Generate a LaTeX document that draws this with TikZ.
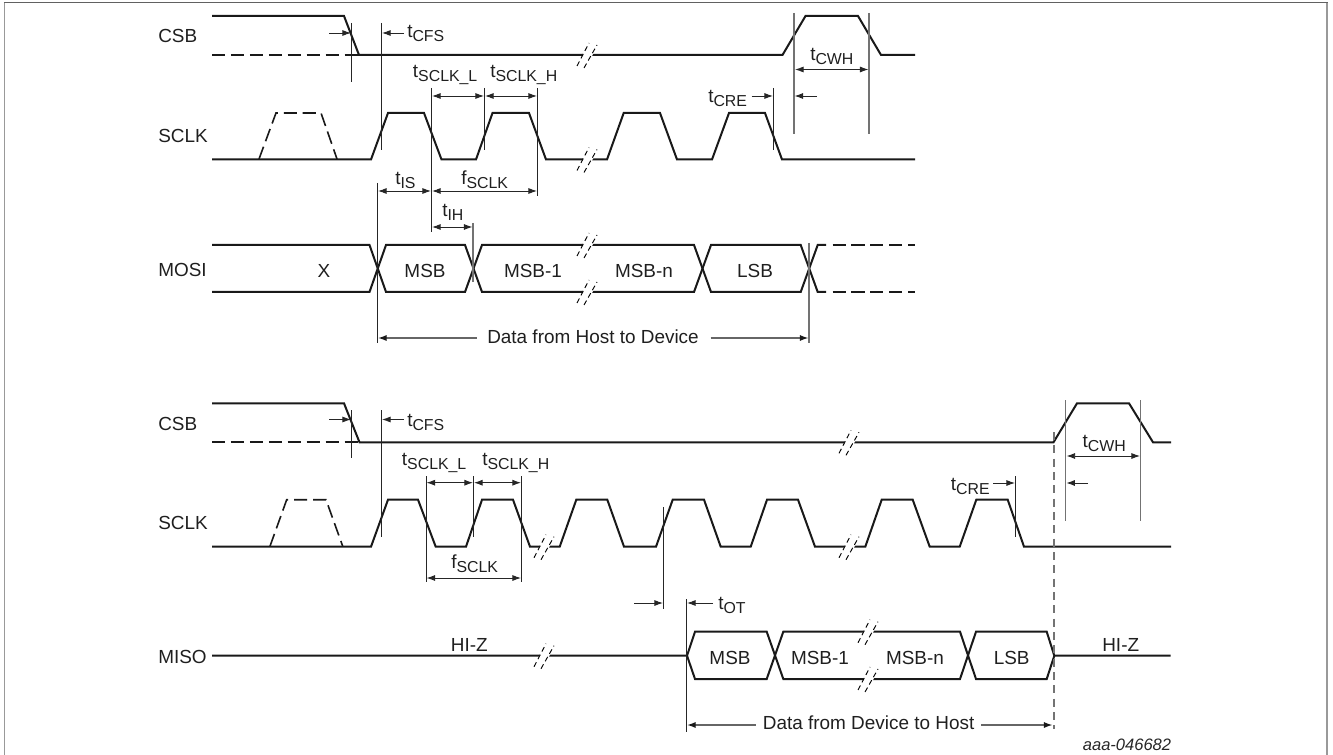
\documentclass[tikz,border=0pt]{standalone}
\usepackage{fontspec}
\setmainfont{Liberation Sans}
\usetikzlibrary{arrows.meta}
\newcommand\tsub[2]{#1\raisebox{-3pt}{\fontsize{11.9}{12}\selectfont #2}}
\newcommand\sigbreak[2]{\begin{scope}[shift={(#1,#2)}]
  \fill[white] (-6,3) -- (-3,-3) -- (7,-3) -- (4,3) -- cycle;
  \draw[slash] (-10,11) -- (2,-12);
  \draw[slash] (-3,13) -- (10,-10);
\end{scope}}
\tikzset{
  sig/.style={line width=1.5pt,black!90,line join=miter},
  sigd/.style={sig,dash pattern=on 9.8pt off 4.4pt},
  sigdd/.style={sig,line width=1.2pt,dash pattern=on 9.8pt off 4.4pt},
  guide/.style={line width=0.7pt,black!85},
  guideg/.style={line width=1.1pt,black!55},
  tip/.style={Latex[length=6.5pt,width=4.6pt,black]},
  dim/.style={line width=0.7pt,black!85,{Latex[length=6.5pt,width=4.6pt]}-{Latex[length=6.5pt,width=4.6pt]}},
  dimr/.style={line width=0.7pt,black!85,-{Latex[length=6.5pt,width=4.6pt]}},
  dimg/.style={line width=1pt,black!60,-{Latex[length=6.5pt,width=4.6pt,black!90]}},
  slash/.style={line width=0.7pt,black,dash pattern=on 3.8pt off 2.6pt},
  lab/.style={font=\fontsize{14.2}{16}\selectfont,text=black!88,inner sep=0pt},
  tlab/.style={lab,anchor=base west},
  frameline/.style={line width=1.4pt,black!40},
}
\begin{document}
\begin{tikzpicture}[x=0.75pt,y=-0.75pt]
\useasboundingbox (0,0) rectangle (1333,755);
% frame
\draw[frameline] (4.5,755) -- (4.5,2.5);
\draw[frameline] (1327,2.5) -- (1327,755);
\draw[frameline,black!62] (3.8,2.5) -- (1327.7,2.5);

% ---------- upper diagram ----------
\node[lab,anchor=west] (csbA) at (158,36) {CSB};
\node[lab,anchor=west] (sclkA) at (158,136) {SCLK};
\node[lab,anchor=west] (mosi) at (158,270) {MOSI};

% CSB
\draw[sig] (212,16) -- (344,16) -- (359,55) -- (782.5,55) -- (805.5,16) -- (858,16) -- (881,55) -- (915,55);
\draw[sigd] (212,55) -- (359,55);
\sigbreak{587}{55}
% SCLK
\draw[sig] (212,159.5) -- (371,159.5) -- (388,113) -- (424,113) -- (441.5,159.5) -- (476,159.5) -- (492.5,113) -- (529,113) -- (546,159.5)
  -- (607,159.5) -- (623.7,113) -- (660,113) -- (677,159.5) -- (712,159.5) -- (729,113) -- (765,113) -- (782,159.5) -- (915,159.5);
\draw[sigdd] (259,159) -- (276,113) -- (321,113) -- (337,159);
\sigbreak{587}{159.5}
% MOSI
\draw[sig] (212,245) -- (369.5,245) -- (386,292) -- (465,292) -- (482,245) -- (694,245) -- (711,292) -- (800.7,292) -- (817.7,245) -- (826,245);
\draw[sig] (212,292) -- (369.5,292) -- (386,245) -- (465,245) -- (482,292) -- (694,292) -- (711,245) -- (800.7,245) -- (817.7,292) -- (826,292);
\draw[sigd] (832.5,245) -- (915,245);
\draw[sigd] (832.5,292) -- (915,292);
\sigbreak{587}{245}
\sigbreak{587}{292}
\node[lab] (x) at (324,271) {X};
\node[lab] (msbA) at (425,271) {MSB};
\node[lab] (msbAa) at (533,271) {MSB-1};
\node[lab] (msbAn) at (644,271) {MSB-n};
\node[lab] (lsbA) at (755,271) {LSB};

% guides
\draw[guide] (351.5,23) -- (351.5,82);
\draw[guide] (381.3,23) -- (381.3,150);
\draw[guide] (431.5,88) -- (431.5,232);
\draw[guide] (484.5,88) -- (484.5,150);
\draw[guide] (537.5,88) -- (537.5,196);
\draw[guide] (377.6,183) -- (377.6,343);
\draw[guideg] (473,223) -- (473,282);
\draw[guide] (773.3,88) -- (773.3,150);
\draw[guideg,line width=0.8pt] (794,13) -- (794,134);
\draw[guideg,line width=0.8pt] (869,13) -- (869,134);
\draw[guideg] (809,243) -- (809,343);

% dimensions
\coordinate (a1) at (329,33); \coordinate (a2) at (351,33);
\draw[dimr] (a1) -- (a2);
\coordinate (a3) at (404,33); \coordinate (a4) at (382,33);
\draw[dimr] (a3) -- (a4);
\node[tlab] (tcfsA) at (407,38) {\tsub{t}{CFS}};
\coordinate (b1) at (432,96); \coordinate (b2) at (484,96); \coordinate (b3) at (485,96); \coordinate (b4) at (537,96);
\draw[dim] (b1) -- (b2);
\draw[dim] (b3) -- (b4);
\node[tlab] (tlA) at (412.7,78) {\tsub{t}{SCLK\_L}};
\node[tlab] (thA) at (490,78) {\tsub{t}{SCLK\_H}};
\coordinate (c1) at (378,191); \coordinate (c2) at (431,191); \coordinate (c3) at (432,191); \coordinate (c4) at (537,191);
\draw[dim] (c1) -- (c2);
\draw[dim] (c3) -- (c4);
\node[tlab] (tis) at (395,185) {\tsub{t}{IS}};
\node[tlab] (fA) at (461,185) {\tsub{f}{SCLK}};
\coordinate (d1) at (432,227); \coordinate (d2) at (472.5,227);
\draw[dim] (d1) -- (d2);
\node[tlab] (tih) at (442,217) {\tsub{t}{IH}};
\coordinate (e1) at (751.7,96); \coordinate (e2) at (773,96);
\draw[dimr] (e1) -- (e2);
\node[tlab] (tcreA) at (708,103) {\tsub{t}{CRE}};
\coordinate (e3) at (795,69.5); \coordinate (e4) at (868.5,69.5);
\draw[dim] (e3) -- (e4);
\node[tlab] (tcwhA) at (810,61) {\tsub{t}{CWH}};
\coordinate (e5) at (817,96); \coordinate (e6) at (794.5,96);
\draw[dimr] (e5) -- (e6);
\node[lab] (dataA) at (593,337) {Data from Host to Device};
\coordinate (f1) at (476.7,338); \coordinate (f2) at (378,338); \coordinate (f3) at (710.5,338); \coordinate (f4) at (808.5,338);
\draw[dimg] (f1) -- (f2);
\draw[dimg] (f3) -- (f4);

% ---------- lower diagram ----------
\node[lab,anchor=west] (csbB) at (158,424) {CSB};
\node[lab,anchor=west] (sclkB) at (158,523) {SCLK};
\node[lab,anchor=west] (miso) at (158,657) {MISO};

% CSB
\draw[sig] (212,403.3) -- (344,403.3) -- (359.5,442.3) -- (1053.5,442.3) -- (1077,403.3) -- (1129,403.3) -- (1153,442.3) -- (1171,442.3);
\draw[sigd] (212,442.3) -- (359,442.3);
\sigbreak{849}{442.3}
% SCLK
\draw[sig] (212,546.7) -- (371,546.7) -- (388,499.7) -- (418,499.7) -- (435.7,546.7) -- (466,546.7) -- (482,499.7) -- (513,499.7) -- (530,546.7)
  -- (559.7,546.7) -- (576.3,499.7) -- (607.3,499.7) -- (624,546.7) -- (656,546.7) -- (672.7,499.7) -- (704,499.7) -- (720.7,546.7)
  -- (750.7,546.7) -- (767,499.7) -- (798,499.7) -- (815,546.7) -- (865.3,546.7) -- (881.7,499.7) -- (912.7,499.7) -- (929.7,546.7)
  -- (959.7,546.7) -- (976.3,499.7) -- (1007.7,499.7) -- (1024,546.7) -- (1171,546.7);
\draw[sigdd] (270,546.2) -- (286.7,499.7) -- (326,499.7) -- (342.7,546.2);
\sigbreak{544}{546.7}
\sigbreak{849}{546.7}
% MISO
\draw[sig] (212,655.7) -- (687,655.7) -- (695,631.7) -- (766.7,631.7) -- (783.3,679) -- (960,679) -- (976,631.7) -- (1046.7,631.7) -- (1054.3,655.7) -- (1170.7,655.7);
\draw[sig] (687,655.7) -- (695,679) -- (766.7,679) -- (783.3,631.7) -- (960,631.7) -- (976,679) -- (1046.7,679) -- (1054.3,655.7);
\sigbreak{544}{655.7}
\sigbreak{868}{631.7}
\sigbreak{868}{679}
\node[lab] (hizA) at (469.3,644.5) {HI-Z};
\node[lab] (msbB) at (730,658) {MSB};
\node[lab] (msbBa) at (820,658) {MSB-1};
\node[lab] (msbBn) at (915,658) {MSB-n};
\node[lab] (lsbB) at (1011.7,658) {LSB};
\node[lab] (hizB) at (1120.7,644.5) {HI-Z};

% guides
\draw[guide] (351.5,410) -- (351.5,458);
\draw[guide] (381.5,410) -- (381.5,537);
\draw[guide] (426,476) -- (426,582);
\draw[guide] (473.5,476) -- (473.5,537);
\draw[guide] (521.5,476) -- (521.5,582);
\draw[guide] (663.7,507) -- (663.7,609);
\draw[guide] (686.5,599) -- (686.5,732);
\draw[guide] (1015.3,476) -- (1015.3,537);
\draw[guideg,line width=0.8pt] (1065.7,400) -- (1065.7,521);
\draw[guideg,line width=0.8pt] (1140.7,400) -- (1140.7,521);
\draw[guideg,dash pattern=on 6pt off 4pt,line width=0.9pt] (1054,432) -- (1054,729);

% dimensions
\coordinate (g1) at (329,419.5); \coordinate (g2) at (351,419.5);
\draw[dimr] (g1) -- (g2);
\coordinate (g3) at (404,419.5); \coordinate (g4) at (382,419.5);
\draw[dimr] (g3) -- (g4);
\node[tlab] (tcfsB) at (407,426) {\tsub{t}{CFS}};
\coordinate (h1) at (426.5,482.7); \coordinate (h2) at (473,482.7); \coordinate (h3) at (474,482.7); \coordinate (h4) at (521,482.7);
\draw[dim] (h1) -- (h2);
\draw[dim] (h3) -- (h4);
\node[tlab] (tlB) at (401.7,465) {\tsub{t}{SCLK\_L}};
\node[tlab] (thB) at (482,465) {\tsub{t}{SCLK\_H}};
\coordinate (i1) at (426.5,578); \coordinate (i2) at (521,578);
\draw[dim] (i1) -- (i2);
\node[tlab] (fB) at (451,568) {\tsub{f}{SCLK}};
\coordinate (j1) at (634,603); \coordinate (j2) at (663,603);
\draw[dimr] (j1) -- (j2);
\coordinate (j3) at (713,603); \coordinate (j4) at (687,603);
\draw[dimr] (j3) -- (j4);
\node[tlab] (tot) at (718,609) {\tsub{t}{OT}};
\coordinate (k1) at (993.3,483); \coordinate (k2) at (1015,483);
\draw[dimr] (k1) -- (k2);
\node[tlab] (tcreB) at (950.7,490) {\tsub{t}{CRE}};
\coordinate (k3) at (1066.5,456); \coordinate (k4) at (1140,456);
\draw[dim] (k3) -- (k4);
\node[tlab] (tcwhB) at (1082.3,447) {\tsub{t}{CWH}};
\coordinate (k5) at (1088,483); \coordinate (k6) at (1066.3,483);
\draw[dimr] (k5) -- (k6);
\node[lab] (dataB) at (868.6,722.7) {Data from Device to Host};
\coordinate (l1) at (755.7,725); \coordinate (l2) at (687,725); \coordinate (l3) at (981,725); \coordinate (l4) at (1052.5,725);
\draw[dimg] (l1) -- (l2);
\draw[dimg] (l3) -- (l4);

\node[font=\fontsize{12.4}{14}\selectfont\itshape,text=black!85,inner sep=0pt] (ref) at (1127,744.5) {aaa-046682};
\end{tikzpicture}
\end{document}
